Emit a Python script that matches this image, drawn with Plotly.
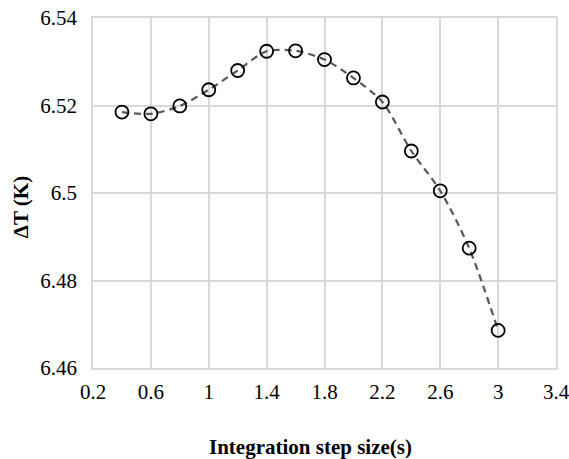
import plotly.graph_objects as go

# Integration step size (s) and resulting temperature difference (K)
step_size = [0.4, 0.6, 0.8, 1.0, 1.2, 1.4, 1.6, 1.8, 2.0, 2.2, 2.4, 2.6, 2.8, 3.0]
delta_t = [6.5185, 6.5181, 6.5199, 6.5236, 6.5280, 6.5324, 6.5325, 6.5305,
           6.5263, 6.5208, 6.5096, 6.5005, 6.4874, 6.4686]

x_ticks = [0.2, 0.6, 1.0, 1.4, 1.8, 2.2, 2.6, 3.0, 3.4]
x_tick_text = ["0.2", "0.6", "1", "1.4", "1.8", "2.2", "2.6", "3", "3.4"]
y_ticks = [6.46, 6.48, 6.50, 6.52, 6.54]
y_tick_text = ["6.46", "6.48", "6.5", "6.52", "6.54"]

font_family = "Liberation Serif, Times New Roman, serif"
grid_color = "#d9d9d9"

fig = go.Figure()

# smoothed dashed trend line
fig.add_trace(go.Scatter(
    x=step_size, y=delta_t, mode="lines",
    line=dict(color="#595959", width=2.25, dash="7px,5px", shape="spline", smoothing=0.8),
    hoverinfo="skip", showlegend=False,
))

# open circle markers
fig.add_trace(go.Scatter(
    x=step_size, y=delta_t, mode="markers",
    marker=dict(symbol="circle-open", size=13, color="black", line=dict(width=1.8, color="black")),
    showlegend=False,
))

fig.update_layout(
    width=569, height=459,
    margin=dict(l=93, r=13, t=18, b=91, autoexpand=False),
    paper_bgcolor="white", plot_bgcolor="white",
    font=dict(family=font_family, size=21, color="black"),
    xaxis=dict(
        range=[0.2, 3.4], tickvals=x_ticks, ticktext=x_tick_text,
        showgrid=True, gridcolor=grid_color, gridwidth=1.5,
        showline=True, linecolor=grid_color, linewidth=1.5, mirror=True,
        ticks="", zeroline=False, tickfont=dict(size=21), ticklabelstandoff=4,
        ticklabeloverflow="allow",
    ),
    yaxis=dict(
        range=[6.46, 6.54], tickvals=y_ticks, ticktext=y_tick_text,
        showgrid=True, gridcolor=grid_color, gridwidth=1.5,
        showline=True, linecolor=grid_color, linewidth=1.5, mirror=True,
        ticks="outside", ticklen=10, tickcolor="rgba(0,0,0,0)",
        zeroline=False, tickfont=dict(size=21),
        ticklabeloverflow="allow",
    ),
    annotations=[
        dict(text="<b>Integration step size(s)</b>", xref="paper", yref="paper",
             x=0.469, y=-0.226, xanchor="center", yanchor="middle", showarrow=False,
             font=dict(family=font_family, size=21, color="black")),
        dict(text="<b>ΔT (K)</b>", xref="paper", yref="paper",
             x=-0.155, y=0.46, xanchor="center", yanchor="middle", showarrow=False,
             textangle=-90, font=dict(family=font_family, size=21, color="black")),
    ],
)

fig.write_html("out.html")
